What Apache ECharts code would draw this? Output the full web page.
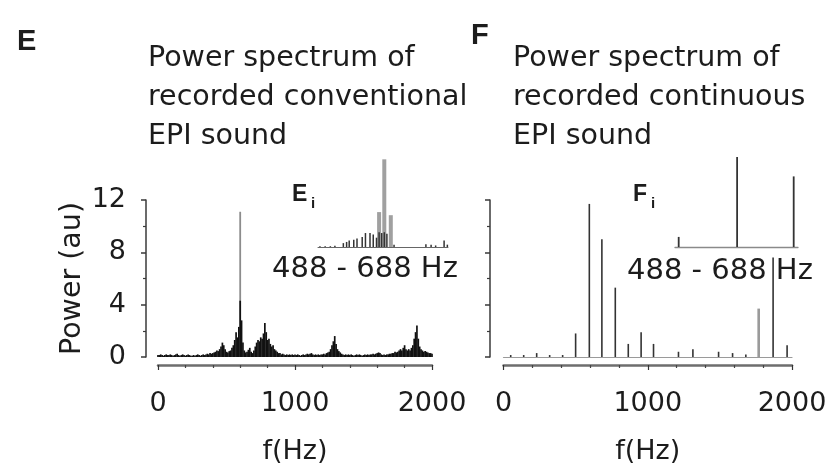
<!DOCTYPE html>
<html><head><meta charset="utf-8">
<script src="https://cdn.jsdelivr.net/npm/echarts@6/dist/echarts.min.js"></script>
<style>html,body{margin:0;padding:0;background:#fff}#c{width:837px;height:469px}</style>
</head><body><div id="c"></div>
<script>
// ---------- Data ----------
// Panel E: recorded conventional EPI sound, power spectrum sampled every 10 Hz
const eFreq = [
  0,10,20,30,40,50,60,70,80,90,
  100,110,120,130,140,150,160,170,180,190,
  200,210,220,230,240,250,260,270,280,290,
  300,310,320,330,340,350,360,370,380,390,
  400,410,420,430,440,450,460,470,480,490,
  500,510,520,530,540,550,560,570,580,590,
  600,610,620,630,640,650,660,670,680,690,
  700,710,720,730,740,750,760,770,780,790,
  800,810,820,830,840,850,860,870,880,890,
  900,910,920,930,940,950,960,970,980,990,
  1000,1010,1020,1030,1040,1050,1060,1070,1080,1090,
  1100,1110,1120,1130,1140,1150,1160,1170,1180,1190,
  1200,1210,1220,1230,1240,1250,1260,1270,1280,1290,
  1300,1310,1320,1330,1340,1350,1360,1370,1380,1390,
  1400,1410,1420,1430,1440,1450,1460,1470,1480,1490,
  1500,1510,1520,1530,1540,1550,1560,1570,1580,1590,
  1600,1610,1620,1630,1640,1650,1660,1670,1680,1690,
  1700,1710,1720,1730,1740,1750,1760,1770,1780,1790,
  1800,1810,1820,1830,1840,1850,1860,1870,1880,1890,
  1900,1910,1920,1930,1940,1950,1960,1970,1980,1990,
  2000
];
const ePower = [
  0.15,0.15,0.2,0.15,0.1,0.15,0.2,0.15,0.15,0.2,
  0.15,0.1,0.15,0.2,0.25,0.15,0.1,0.15,0.2,0.15,
  0.1,0.15,0.2,0.15,0.1,0.1,0.15,0.1,0.15,0.2,
  0.15,0.1,0.15,0.2,0.15,0.2,0.25,0.2,0.3,0.25,
  0.3,0.35,0.4,0.5,0.45,0.6,0.8,1.1,0.9,0.6,
  0.4,0.35,0.45,0.5,0.7,0.9,1.3,1.9,1.5,2.3,
  4.3,2.8,1.1,0.5,0.35,0.4,0.55,0.7,0.4,0.3,
  0.5,0.8,1.1,1.3,1.2,1.5,1.4,1.8,2.6,1.9,
  1.3,1.4,1.0,0.8,0.9,0.6,0.5,0.4,0.3,0.3,
  0.2,0.25,0.2,0.15,0.2,0.15,0.2,0.15,0.2,0.15,
  0.2,0.15,0.2,0.15,0.1,0.15,0.2,0.15,0.2,0.25,
  0.2,0.25,0.3,0.2,0.15,0.2,0.15,0.2,0.15,0.2,
  0.2,0.25,0.2,0.3,0.35,0.4,0.6,0.9,1.2,1.6,
  1.0,0.6,0.45,0.35,0.25,0.2,0.15,0.2,0.15,0.2,
  0.15,0.2,0.15,0.1,0.15,0.2,0.15,0.2,0.15,0.1,
  0.15,0.2,0.15,0.2,0.15,0.2,0.2,0.25,0.2,0.25,
  0.3,0.35,0.3,0.2,0.15,0.2,0.15,0.2,0.2,0.25,
  0.25,0.3,0.3,0.4,0.35,0.4,0.5,0.6,0.5,0.7,
  0.9,0.6,0.5,0.6,0.5,0.7,0.9,1.4,1.9,2.4,
  1.4,0.8,0.6,0.5,0.4,0.45,0.4,0.35,0.3,0.3,
  0.25
];
// Panel E: the tall grey spike
const eGreyFreq = [600];
const eGreyPower = [11.1];

// Panel F: recorded continuous EPI sound (line spectrum)
const fFreq  = [50, 140, 230, 320, 410, 500, 595, 682, 775, 865, 954, 1040, 1213, 1313, 1491, 1588, 1680, 1869, 1966];
const fPower = [0.15, 0.15, 0.3, 0.15, 0.15, 1.8, 11.7, 9.0, 5.3, 1.0, 1.9, 1.0, 0.4, 0.6, 0.4, 0.3, 0.2, 7.6, 0.9];
const fGreyFreq  = [1769];
const fGreyPower = [3.7];

// Inset Ei: 488 - 688 Hz
const eiGreyFreq  = [582, 590, 600];
const eiGreyPower = [4.5, 11.3, 4.1];
const eiDarkFreq  = [491, 499, 507, 514, 527, 532, 536, 543, 548, 556, 561, 568, 573, 578, 582, 586, 590, 594, 605, 654, 662, 669, 682, 687];
const eiDarkPower = [0.1, 0.1, 0.1, 0.15, 0.5, 0.65, 0.85, 0.95, 1.1, 1.3, 1.8, 1.8, 1.6, 1.2, 1.9, 1.8, 1.9, 1.7, 0.3, 0.35, 0.3, 0.2, 0.85, 0.3];

// Inset Fi: 488 - 688 Hz
const fiFreq  = [494, 589, 681];
const fiPower = [1.3, 11.8, 9.1];

// Axes
const freqRange = [0, 2000];
const freqLabelStep = 1000;
const powerRange = [0, 12];
const powerLabelStep = 4;
const insetRange = [488, 688];
const insetLabel = '488 - 688 Hz';

// ---------- Chart ----------
const zip = (a, b) => a.map((v, i) => [v, b[i]]);
const FONT = 'DejaVu Sans';
const TXT = '#1c1c1c';

function mainX(grid, name) {
  return {
    type: 'value', gridIndex: grid, min: freqRange[0], max: freqRange[1], interval: freqLabelStep,
    position: 'bottom', offset: 8,
    axisLine: { show: true, onZero: false, lineStyle: { color: '#6e6e6e', width: 2.5 } },
    axisTick: { show: true, length: 5, lineStyle: { color: '#333', width: 1.2 } },
    minorTick: { show: true, splitNumber: 5, length: 3, lineStyle: { color: '#444', width: 1.2 } },
    axisLabel: { fontSize: 27, color: TXT, fontFamily: FONT, margin: 25, formatter: v => String(v) },
    splitLine: { show: false }, minorSplitLine: { show: false },
    name: name, nameLocation: 'middle', nameGap: 73,
    nameTextStyle: { fontSize: 27, color: TXT, fontFamily: FONT }
  };
}
function hiddenX(grid, range) {
  return { type: 'value', gridIndex: grid, min: range[0], max: range[1], show: false, position: 'bottom' };
}
function baseX(grid, range, color, width) {
  return {
    type: 'value', gridIndex: grid, min: range[0], max: range[1], position: 'bottom', offset: 0,
    axisLine: { show: true, onZero: false, lineStyle: { color: color, width: width } },
    axisTick: { show: false }, axisLabel: { show: false }, splitLine: { show: false }
  };
}
function mainY(grid, offset, labels) {
  return {
    type: 'value', gridIndex: grid, min: powerRange[0], max: powerRange[1], interval: powerLabelStep, offset: offset,
    axisLine: { show: true, onZero: false, lineStyle: { color: '#3a3a3a', width: 1.5 } },
    axisTick: { show: true, length: 5, lineStyle: { color: '#3a3a3a', width: 1.5 } },
    minorTick: { show: true, splitNumber: 2, length: 3, lineStyle: { color: '#3a3a3a', width: 1.2 } },
    axisLabel: { show: labels, fontSize: 27, color: TXT, fontFamily: FONT, margin: 20 },
    splitLine: { show: false }, minorSplitLine: { show: false },
    name: labels ? 'Power (au)' : '', nameLocation: 'middle', nameGap: 59, nameRotate: 90,
    nameTextStyle: { fontSize: 28.5, color: TXT, fontFamily: FONT }
  };
}
function insetY(grid) {
  return { type: 'value', gridIndex: grid, min: 0, max: 11.6, show: false };
}
function bars(name, xi, yi, data, width, color, z) {
  return { name: name, type: 'bar', xAxisIndex: xi, yAxisIndex: yi, data: data, barWidth: width,
           itemStyle: { color: color }, z: z, silent: true, animation: false };
}
function txt(text, left, top, size, weight, family, lh) {
  const ts = { fontSize: size, fontWeight: weight, fontFamily: family, color: TXT };
  if (lh) ts.lineHeight = lh;
  return { text: text, left: left, top: top, padding: 0, textStyle: ts };
}

const chart = echarts.init(document.getElementById('c'), null, { renderer: 'canvas' });
chart.setOption({
  backgroundColor: '#ffffff',
  animation: false,
  title: [
    txt('E', 17, 27, 29, 'bold', 'Liberation Sans'),
    txt('F', 471, 21, 29, 'bold', 'Liberation Sans'),
    txt('Power spectrum of\nrecorded conventional\nEPI sound', 148, 39, 28.5, 'normal', FONT, 39),
    txt('Power spectrum of\nrecorded continuous\nEPI sound', 513, 39, 28.5, 'normal', FONT, 39),
    txt('E', 292, 183, 23, 'bold', 'Liberation Sans'),
    txt('i', 311, 196, 15, 'bold', 'Liberation Sans'),
    txt('F', 633, 183, 23, 'bold', 'Liberation Sans'),
    txt('i', 651, 196, 15, 'bold', 'Liberation Sans'),
    txt(insetLabel, 272, 255, 29, 'normal', FONT),
    txt(insetLabel, 627, 257, 29, 'normal', FONT)
  ],
  grid: [
    { left: 158, top: 200, width: 274, height: 157 },
    { left: 503.5, top: 200, width: 288.5, height: 157 },
    { left: 318, top: 157, width: 130, height: 90 },
    { left: 675, top: 157, width: 123, height: 90 }
  ],
  xAxis: [
    mainX(0, 'f(Hz)'),                 // 0
    hiddenX(0, freqRange),             // 1 E grey spike
    mainX(1, 'f(Hz)'),                 // 2
    baseX(1, freqRange, '#9a9a9a', 1.2), // 3 F baseline
    hiddenX(1, freqRange),             // 4 F grey spike
    baseX(2, insetRange, '#666', 1),   // 5 Ei
    hiddenX(2, insetRange),            // 6 Ei grey
    baseX(3, insetRange, '#8a8a8a', 1.3) // 7 Fi
  ],
  yAxis: [
    mainY(0, 12, true),
    mainY(1, 13.5, false),
    insetY(2),
    insetY(3)
  ],
  series: [
    bars('E grey', 1, 0, zip(eGreyFreq, eGreyPower), 1.8, '#8c8c8c', 2),
    bars('E spectrum', 0, 0, zip(eFreq, ePower), 1.7, '#111', 3),
    bars('F spectrum', 3, 1, zip(fFreq, fPower), 1.6, '#333', 3),
    bars('F grey', 4, 1, zip(fGreyFreq, fGreyPower), 2.6, '#9a9a9a', 2),
    bars('Ei grey', 6, 2, zip(eiGreyFreq, eiGreyPower), 4, '#a0a0a0', 2),
    bars('Ei dark', 5, 2, zip(eiDarkFreq, eiDarkPower), 1.5, '#333', 3),
    bars('Fi', 7, 3, zip(fiFreq, fiPower), 1.8, '#333', 3)
  ]
});
</script>
</body></html>
